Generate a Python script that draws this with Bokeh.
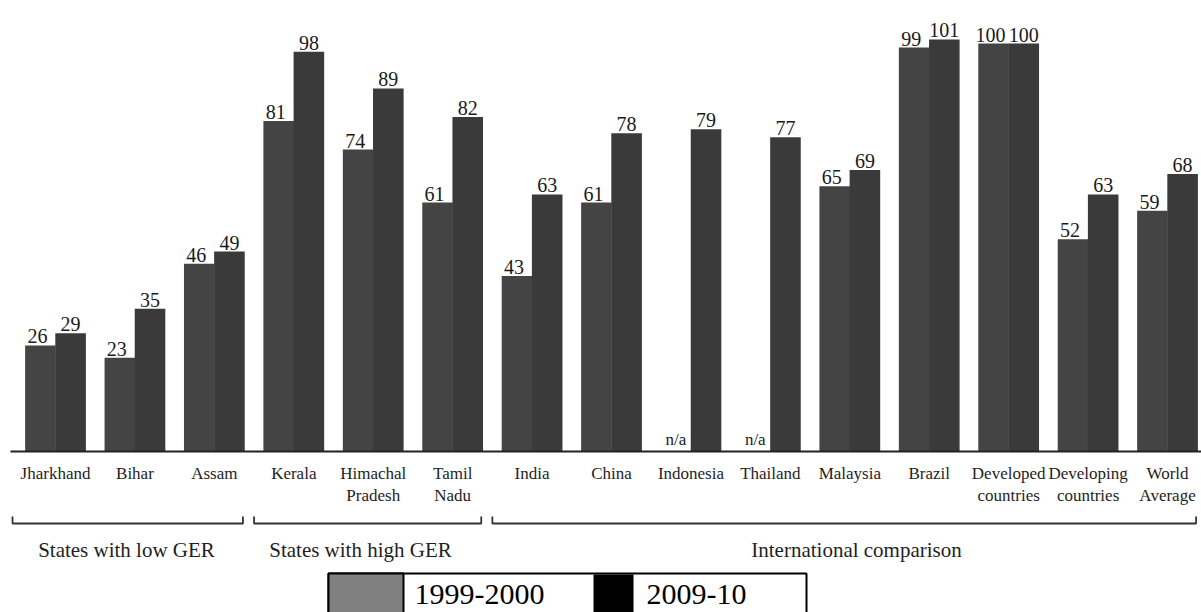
from bokeh.plotting import figure
from bokeh.models import ColumnDataSource, Range1d
from bokeh.core.properties import value
from bokeh.embed import file_html
from bokeh.resources import INLINE

# ---------------- data ----------------
categories = ["Jharkhand", "Bihar", "Assam", "Kerala", "Himachal\nPradesh", "Tamil\nNadu",
              "India", "China", "Indonesia", "Thailand", "Malaysia", "Brazil",
              "Developed\ncountries", "Developing\ncountries", "World\nAverage"]
ger_1999 = [26, 23, 46, 81, 74, 61, 43, 61, None, None, 65, 99, 100, 52, 59]
ger_2009 = [29, 35, 49, 98, 89, 82, 63, 78, 79, 77, 69, 101, 100, 63, 68]
series_names = ["1999-2000", "2009-10"]
groups = [("States with low GER", 0, 2),
          ("States with high GER", 3, 5),
          ("International comparison", 6, 14)]

# ---------------- layout ----------------
W, H = 1201, 612
U = 79.43      # px per category
C0 = 55.0      # px of first category centre
S = 4.08       # px per GER unit
BASE = 451.0   # px of baseline from top
X0 = -C0 / U
X1 = X0 + W / U
Y1 = BASE / S
Y0 = Y1 - H / S

def X(px):
    return X0 + px / U

def Y(py):
    return Y1 - py / S

SERIF = value("Liberation Serif")
BAR_COLORS = ["#444444", "#3a3a3a"]
OFF = 0.19
BW = 0.385

p = figure(width=W, height=H, x_range=Range1d(X0, X1), y_range=Range1d(Y0, Y1),
           output_backend="svg", toolbar_location=None, min_border=0,
           x_axis_location=None, y_axis_location=None)
p.outline_line_color = None
p.grid.visible = False
p.background_fill_color = "white"
p.border_fill_color = "white"

idx = list(range(len(categories)))

for k, (vals, off) in enumerate([(ger_1999, -OFF), (ger_2009, OFF)]):
    xs = [i + off for i, v in zip(idx, vals) if v is not None]
    tops = [v for v in vals if v is not None]
    src = ColumnDataSource(dict(x=xs, top=tops, lab=[str(v) for v in tops]))
    p.vbar(x="x", top="top", bottom=0, width=BW, source=src,
           fill_color=BAR_COLORS[k], line_color=None)
    p.text(x="x", y="top", text="lab", source=src, text_align="center",
           text_baseline="bottom", text_font=SERIF, text_font_size="20px",
           text_color="#1a1a1a", x_offset=-3 if k == 0 else 0, y_offset=-2)

# n/a labels
na_x = [i - OFF for i, v in zip(idx, ger_1999) if v is None]
p.text(x=na_x, y=[0] * len(na_x), text=["n/a"] * len(na_x), text_align="center",
       text_baseline="bottom", text_font=SERIF, text_font_size="17px",
       text_color="#1a1a1a", y_offset=-3)

# baseline
p.line(x=[X(10), X(W)], y=[0, 0], line_color="#222222", line_width=2)

# category labels
p.text(x=idx, y=[Y(463)] * len(idx), text=categories, text_align="center",
       text_baseline="top", text_font=SERIF, text_font_size="17px",
       text_color="#1e1e1e", text_line_height=1.2)

# group brackets and labels
for name, a, b in groups:
    xl, xr = a - 0.5, b + 0.36
    if a == 0:
        xl = X(12)
    yb, ye = Y(523), Y(516)
    p.line(x=[xl, xl, xr, xr], y=[ye, yb, yb, ye], line_color="#333333", line_width=1.8)
    cx = {0: X(126), 3: X(360), 6: X(856)}[a]
    p.text(x=[cx], y=[Y(549)], text=[name], text_align="center", text_baseline="middle",
           text_font=SERIF, text_font_size="21px", text_color="#1f1f1f")

# legend (drawn box)
p.quad(left=[X(328)], right=[X(806)], top=[Y(573)], bottom=[Y(640)],
       fill_color="white", line_color="black", line_width=2)
p.quad(left=[X(328)], right=[X(403)], top=[Y(573)], bottom=[Y(640)],
       fill_color="#808080", line_color="black", line_width=2)
p.quad(left=[X(593)], right=[X(633)], top=[Y(574)], bottom=[Y(640)],
       fill_color="black", line_color=None)
p.text(x=[X(414), X(646)], y=[Y(594), Y(594)], text=series_names, text_align="left",
       text_baseline="middle", text_font=SERIF, text_font_size="30px", text_color="black")

open("out.html", "w").write(file_html(p, INLINE))
